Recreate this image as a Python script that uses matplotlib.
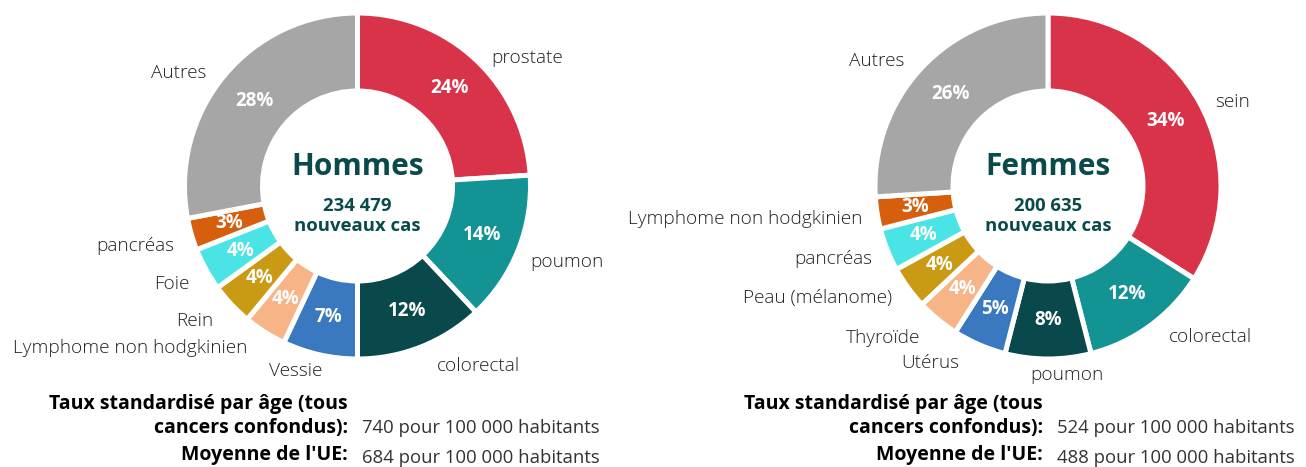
import matplotlib.pyplot as plt

# --- data ---
men_labels = ['prostate', 'poumon', 'colorectal', 'Vessie', 'Lymphome non hodgkinien',
              'Rein', 'Foie', 'pancréas', 'Autres']
men_values = [24, 14, 12, 7, 4, 4, 4, 3, 28]
men_total = '234 479'
men_rate = 740
men_eu = 684

women_labels = ['sein', 'colorectal', 'poumon', 'Utérus', 'Thyroïde',
                'Peau (mélanome)', 'pancréas', 'Lymphome non hodgkinien', 'Autres']
women_values = [34, 12, 8, 5, 4, 4, 4, 3, 26]
women_total = '200 635'
women_rate = 524
women_eu = 488

colors = ['#D9334A', '#139393', '#0A494B', '#3A78BF', '#F7B487',
          '#CB9A14', '#4AE4E6', '#D55F0C', '#A6A6A6']
dark = '#0B4A4A'

W, H = 1306, 467
FONT = 'Open Sans'

# label anchors in pixel coords (x, y from top, ha)
men_label_pos = [(491, 58, 'left'), (530, 262, 'left'), (437, 366, 'left'),
                 (296, 371, 'center'), (247, 348, 'right'), (213, 321, 'right'),
                 (189, 284, 'right'), (174, 246, 'right'), (206, 73, 'right')]
women_label_pos = [(1215, 102, 'left'), (1169, 337, 'left'), (1067, 375, 'center'),
                   (930, 363, 'center'), (920, 338, 'right'), (892, 298, 'right'),
                   (872, 259, 'right'), (862, 219, 'right'), (904, 61, 'right')]

fig = plt.figure(figsize=(W / 100, H / 100), dpi=100)
ax = fig.add_axes([0, 0, 1, 1])


def donut(cx, cy, values, labels, label_pos, title, total, rate, eu, text_right):
    r_out, r_in = 173, 95
    ax.pie(values, colors=colors, startangle=90, counterclock=False,
           radius=r_out, center=(cx, H - cy),
           wedgeprops=dict(width=r_out - r_in, edgecolor='white', linewidth=3.6),
           autopct=lambda p: f'{p:.0f}%', pctdistance=134 / r_out,
           textprops=dict(color='white', fontsize=13.5, fontweight='bold', family=FONT))
    for lab, (x, y, ha) in zip(labels, label_pos):
        ax.text(x, H - y, lab, ha=ha, va='center', fontsize=13.7, color='#222222',
                family=FONT, fontweight='light')
    ax.text(cx, H - (cy - 19), title, ha='center', va='center', fontsize=21.5,
            fontweight='bold', color=dark, family=FONT)
    ax.text(cx, H - (cy + 30), f'{total}\nnouveaux cas', ha='center', va='center',
            fontsize=13.3, fontweight='bold', color=dark, family=FONT, linespacing=1.2)
    # bottom notes
    bold = dict(ha='right', va='center', fontsize=14, fontweight='bold',
                color='black', family=FONT)
    ax.text(text_right, H - 404, 'Taux standardisé par âge (tous', **bold)
    ax.text(text_right, H - 428, 'cancers confondus):', **bold)
    ax.text(text_right, H - 455, "Moyenne de l'UE:", **bold)
    ax.text(text_right + 14, H - 428, f'{rate} pour 100 000 habitants', ha='left',
            va='center', fontsize=13.3, color='#333333', family=FONT)
    ax.text(text_right + 14, H - 458, f'{eu} pour 100 000 habitants', ha='left',
            va='center', fontsize=13.3, color='#333333', family=FONT)


donut(357.5, 186, men_values, men_labels, men_label_pos, 'Hommes', men_total,
      men_rate, men_eu, 348)
donut(1048, 186, women_values, women_labels, women_label_pos, 'Femmes', women_total,
      women_rate, women_eu, 1043)

ax.set_xlim(0, W)
ax.set_ylim(0, H)
ax.set_aspect('auto')
ax.axis('off')

fig.savefig('out.png', dpi=100)
